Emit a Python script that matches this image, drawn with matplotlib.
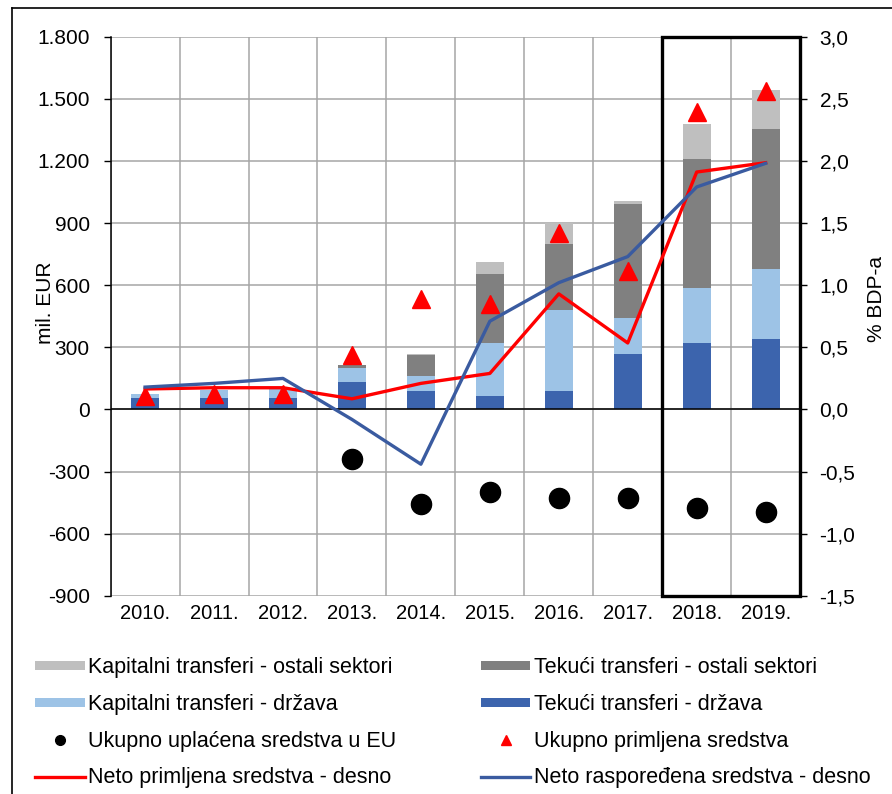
import matplotlib
matplotlib.use('Agg')
import matplotlib.pyplot as plt
from matplotlib.ticker import FuncFormatter, MultipleLocator
from matplotlib.patches import Rectangle
from matplotlib.lines import Line2D
import numpy as np

plt.rcParams['font.family'] = ['Liberation Sans', 'DejaVu Sans']

years = ["2010.", "2011.", "2012.", "2013.", "2014.",
         "2015.", "2016.", "2017.", "2018.", "2019."]

# mil. EUR
tekuci_drzava = [54, 56, 56, 133, 89, 64, 88, 268, 321, 342]
kapitalni_drzava = [22, 37, 44, 68, 75, 257, 393, 173, 265, 337]
tekuci_ostali = [0, 0, 0, 12, 100, 332, 318, 549, 623, 674]
kapitalni_ostali = [0, 0, 0, 4, 6, 58, 100, 16, 167, 191]
uplacena = [np.nan, np.nan, np.nan, -237, -457, -396, -429, -425, -477, -493]
primljena = [64, 75, 77, 265, 533, 510, 851, 666, 1436, 1538]

# % BDP-a (right axis)
neto_primljena = [0.165, 0.175, 0.175, 0.086, 0.21, 0.29, 0.93, 0.535, 1.91, 1.985]
neto_rasporedena = [0.18, 0.21, 0.25, -0.08, -0.44, 0.71, 1.02, 1.23, 1.79, 1.98]

c_db = '#3C64AD'
c_lb = '#9DC3E6'
c_dg = '#808080'
c_lg = '#BFBFBF'
c_red = '#FF0000'
c_blue = '#3A5BA0'

fig = plt.figure(figsize=(8.92, 7.94), dpi=100)
ax = fig.add_axes([0.124, 0.2494, 0.773, 0.7046])
ax2 = ax.twinx()

x = np.arange(len(years))
bw = 0.41

ax.bar(x, tekuci_drzava, bw, color=c_db, zorder=2)
bot = np.array(tekuci_drzava, dtype=float)
ax.bar(x, kapitalni_drzava, bw, bottom=bot, color=c_lb, zorder=2)
bot = bot + kapitalni_drzava
ax.bar(x, tekuci_ostali, bw, bottom=bot, color=c_dg, zorder=2)
bot = bot + tekuci_ostali
ax.bar(x, kapitalni_ostali, bw, bottom=bot, color=c_lg, zorder=2)

ax.plot(x, uplacena, 'o', color='black', markersize=14.5, zorder=4,
        linestyle='none')
ax.plot(x, primljena, '^', color=c_red, markersize=13, zorder=5,
        linestyle='none')

ax2.plot(x, neto_primljena, color=c_red, linewidth=2.4, zorder=3)
ax2.plot(x, neto_rasporedena, color=c_blue, linewidth=2.4, zorder=3)

# axes limits and ticks
ax.set_xlim(-0.5, 9.5)
ax.set_ylim(-900, 1800)
ax2.set_ylim(-1.5, 3.0)
ax.yaxis.set_major_locator(MultipleLocator(300))
ax2.yaxis.set_major_locator(MultipleLocator(0.5))
ax.yaxis.set_major_formatter(FuncFormatter(
    lambda v, p: '{:,.0f}'.format(v).replace(',', '.')))
ax2.yaxis.set_major_formatter(FuncFormatter(
    lambda v, p: '{:.1f}'.format(v).replace('.', ',')))

ax.set_xticks(x)
ax.set_xticklabels(years)
ax.set_xticks(np.arange(-0.5, 10, 1), minor=True)
ax.tick_params(axis='x', which='both', length=0, labelsize=14.5, pad=6)
ax.tick_params(axis='y', labelsize=15, length=5, width=1, pad=10)
ax2.tick_params(axis='y', labelsize=15, length=5, width=1, pad=9)

ax.grid(which='major', axis='y', color='#A6A6A6', linewidth=1.1, zorder=0)
ax.grid(which='minor', axis='x', color='#A6A6A6', linewidth=1.1, zorder=0)
ax.axhline(0, color='black', linewidth=1.1, zorder=3)
ax.set_axisbelow(True)

for a in (ax, ax2):
    a.spines['top'].set_visible(False)
    a.spines['bottom'].set_visible(False)
ax.spines['left'].set_linewidth(1.1)
ax2.spines['right'].set_linewidth(1.1)
ax2.spines['left'].set_visible(False)

ax.set_ylabel('mil. EUR', fontsize=15, labelpad=-13, y=0.525)
ax2.set_ylabel('% BDP-a', fontsize=15, labelpad=8, y=0.53)

# highlighted forecast box
ax.add_patch(Rectangle((7.5, -900), 2.0, 2700, fill=False, edgecolor='black',
                       linewidth=2.4, zorder=6, clip_on=False))

# outer frame
fig.add_artist(Line2D([0.0131, 0.0131], [0.0, 0.9895], color='black',
                      linewidth=1.2, transform=fig.transFigure))
fig.add_artist(Line2D([0.0131, 1.0], [0.9895, 0.9895], color='black',
                      linewidth=1.2, transform=fig.transFigure))

# legend
bar_h = lambda c: Rectangle((0, 0), 1, 1, facecolor=c, edgecolor='none')
handles = [bar_h(c_lg), bar_h(c_lb),
           Line2D([], [], marker='o', color='black', linestyle='none', markersize=7),
           Line2D([], [], color=c_red, linewidth=2.4),
           bar_h(c_dg), bar_h(c_db),
           Line2D([], [], marker='^', color=c_red, linestyle='none', markersize=7),
           Line2D([], [], color=c_blue, linewidth=2.4)]
labels = ['Kapitalni transferi - ostali sektori', 'Kapitalni transferi - država',
          'Ukupno uplaćena sredstva u EU', 'Neto primljena sredstva - desno',
          'Tekući transferi - ostali sektori', 'Tekući transferi - država',
          'Ukupno primljena sredstva', 'Neto raspoređena sredstva - desno']
fig.legend(handles, labels, ncol=2, loc='upper left',
           bbox_to_anchor=(0.030, 0.183), frameon=False, fontsize=15.5,
           handlelength=2.3, handleheight=0.3, handletextpad=0.15,
           columnspacing=3.93, labelspacing=0.73, borderaxespad=0)

fig.savefig('out.png', dpi=100)
